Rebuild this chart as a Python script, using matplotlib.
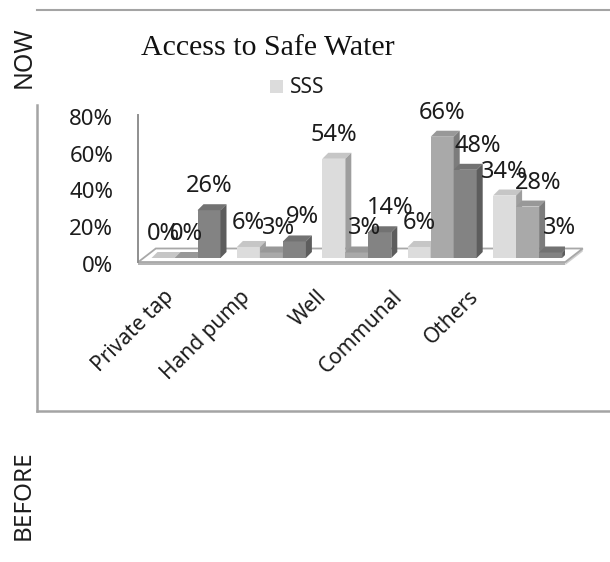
import matplotlib
matplotlib.use("Agg")
import matplotlib.pyplot as plt
import matplotlib.transforms as mtransforms
from matplotlib.patches import Polygon, Patch
from matplotlib.lines import Line2D

# ---- data -------------------------------------------------------------
categories = ["Private tap", "Hand pump", "Well", "Communal", "Others"]
series_sss = [0, 6, 54, 6, 34]
series_two = [0, 3, 3, 66, 28]
series_three = [26, 9, 14, 48, 3]
y_ticks = [0, 20, 40, 60, 80]
y_tick_labels = ["0%", "20%", "40%", "60%", "80%"]
legend_label = "SSS"
title = "Access to Safe Water"

# horizontal nudges (pixels) for the value labels of each series
label_nudge = [
    [0, 0, 0, 0, 0],
    [0, 7, 8, 0, 11],
    [0, 8, 10, 13, 9],
]

SANS = ["Noto Sans", "DejaVu Sans"]
plt.rcParams["font.family"] = SANS
TEXT = "#1c1c1c"

W, H, DPI = 610, 562, 100
fig = plt.figure(figsize=(W / DPI, H / DPI), dpi=DPI)


def fx(px):
    return px / W


def fy(py):
    return 1 - py / H


# plot area (front plane of the 3-D box)
left_px, right_px, top_px, base_px = 138.3, 565.3, 115.0, 262.0
ax = fig.add_axes([fx(left_px), fy(base_px),
                   (right_px - left_px) / W, (base_px - top_px) / H])
ax.set_xlim(-0.5, len(categories) - 0.5)
ax.set_ylim(0, 80)
ax.patch.set_visible(False)
for side in ("top", "right", "bottom"):
    ax.spines[side].set_visible(False)
ax.spines["left"].set_color("#8f8f8f")
ax.spines["left"].set_linewidth(1.4)

px_per_x = (right_px - left_px) / len(categories)
px_per_y = (base_px - top_px) / 80.0


def dx(px):
    return px / px_per_x


def dy(px):
    return px / px_per_y


# floor of the 3-D box
fdx, fdy, thick = dx(17.5), dy(13.5), dy(3)
x_lo, x_hi = -0.5, len(categories) - 0.5
floor_front = Polygon([(x_lo, 0), (x_hi, 0), (x_hi, -thick), (x_lo, -thick)],
                      closed=True, facecolor="#b4b4b4", edgecolor="none",
                      clip_on=False, zorder=1)
floor_side = Polygon([(x_hi, 0), (x_hi + fdx, fdy), (x_hi + fdx, fdy - thick),
                      (x_hi, -thick)], closed=True, facecolor="#cfcfcf",
                     edgecolor="none", clip_on=False, zorder=1)
floor_top = Polygon([(x_lo, 0), (x_hi, 0), (x_hi + fdx, fdy), (x_lo + fdx, fdy)],
                    closed=True, facecolor="white", edgecolor="#a8a8a8",
                    linewidth=1.3, clip_on=False, zorder=1.1)
for p in (floor_front, floor_side, floor_top):
    ax.add_patch(p)

# bars
series = [series_sss, series_two, series_three]
front_cols = ["#dcdcdc", "#a9a9a9", "#838383"]
top_cols = ["#c6c6c6", "#989898", "#727272"]
side_cols = ["#9e9e9e", "#7c7c7c", "#5d5d5d"]

bw = dx(23)
shift_x, shift_y = dx(5), dy(4)
bdx, bdy = dx(6), dy(6)

xs = range(len(categories))
containers = []
for k, vals in enumerate(series):
    lefts = [i + (k - 1.5) * bw + shift_x for i in xs]
    c = ax.bar(lefts, vals, width=bw, bottom=shift_y, align="edge",
               color=front_cols[k], edgecolor="none",
               label=legend_label if k == 0 else None)
    containers.append((lefts, vals, c))

for k, (lefts, vals, c) in enumerate(containers):
    for i, (x0, v, rect) in enumerate(zip(lefts, vals, c.patches)):
        z = 2 + (i * 3 + k) * 0.01
        rect.set_zorder(z)
        y0 = shift_y
        top = Polygon([(x0, y0 + v), (x0 + bw, y0 + v),
                       (x0 + bw + bdx, y0 + v + bdy), (x0 + bdx, y0 + v + bdy)],
                      closed=True, facecolor=top_cols[k], edgecolor="none",
                      zorder=z)
        side = Polygon([(x0 + bw, y0), (x0 + bw, y0 + v),
                        (x0 + bw + bdx, y0 + v + bdy), (x0 + bw + bdx, y0 + bdy)],
                       closed=True, facecolor=side_cols[k], edgecolor="none",
                       zorder=z)
        ax.add_patch(top)
        ax.add_patch(side)
        ax.annotate(f"{v}%", xy=(x0 + bw / 2, y0 + v),
                    xytext=(label_nudge[k][i], 18),
                    textcoords="offset pixels", ha="center", va="baseline",
                    fontsize=17, color=TEXT, zorder=5, annotation_clip=False)

# axis labels
ax.set_xticks([])
ax.set_yticks(y_ticks)
ax.set_yticklabels(y_tick_labels, fontsize=16, color=TEXT)
ax.tick_params(axis="y", length=0, pad=18)
for lbl in ax.get_yticklabels():
    lbl.set_transform(lbl.get_transform() + mtransforms.Affine2D().translate(0, -2))

for i, name in enumerate(categories):
    tr = mtransforms.offset_copy(ax.transData, fig=fig,
                                 x=-10 - 9.2 * i, y=-32, units="dots")
    ax.text(i, 0, name, transform=tr, rotation=45, rotation_mode="anchor",
            ha="right", va="center", fontsize=15, color=TEXT)

# title and legend
fig.text(fx(268), fy(55), title, ha="center", va="baseline",
         family=["Liberation Serif", "DejaVu Serif"], fontsize=21.5, color="#111111")
fig.legend(handles=[Patch(facecolor=front_cols[0], edgecolor="none")],
           labels=[legend_label], loc="center left",
           bbox_to_anchor=(fx(270), fy(88)), frameon=False,
           handlelength=0.6, handleheight=0.6, handletextpad=0.35,
           borderpad=0, borderaxespad=0,
           prop={"family": SANS, "size": 15})
for t in fig.legends[0].get_texts():
    t.set_color(TEXT)

# side captions
fig.text(fx(24), fy(57), "NOW", rotation=90, ha="center", va="center",
         fontsize=18, color=TEXT)
fig.text(fx(24), fy(495), "BEFORE", rotation=90, ha="center", va="center",
         fontsize=17.5, color=TEXT)

# frame around the chart
frame_col = "#a4a4a4"
fig.add_artist(Line2D([fx(37), 1], [fy(9.5), fy(9.5)], color=frame_col, lw=1.5))
fig.add_artist(Line2D([fx(37), fx(37)], [fy(105), fy(411)], color=frame_col, lw=1.8))
fig.add_artist(Line2D([fx(37), 1], [fy(411), fy(411)], color=frame_col, lw=1.8))

fig.savefig("out.png", dpi=DPI)
